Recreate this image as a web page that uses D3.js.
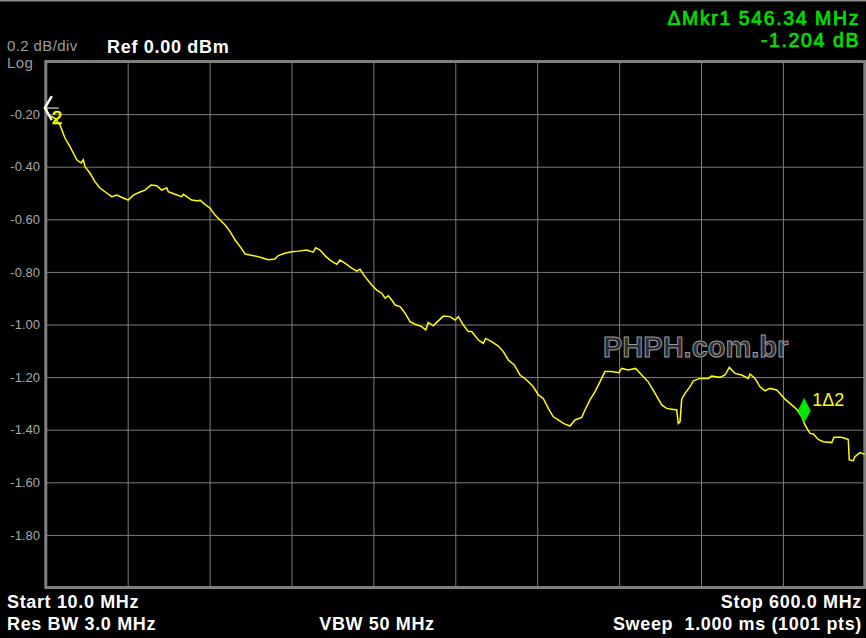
<!DOCTYPE html>
<html lang="en">
  <meta charset="utf-8">
  <style>
    body { margin: 0; background: #000; }
    svg { display: block; font-family: "Liberation Sans", Arial, sans-serif; }
  </style>
  <body>
    <svg width="866" height="638"></svg>

    <script src="https://d3js.org/d3.v7.min.js"></script>
    <script>
    // trace: frequency (MHz) and level (dB)
    let freq = [10.1, 11.8, 16.6, 20.2, 23.8, 27.4, 29.8, 32.3, 35.4, 37.0, 38.2, 41.8, 45.4, 49.0, 53.9, 57.5,
      61.1, 65.8, 69.4, 73.0, 77.9, 81.5, 85.8, 89.9, 93.5, 97.1, 98.2, 103.1, 107.9, 109.1, 115.1, 119.9,
      121.1, 124.7, 128.3, 131.9, 135.5, 139.2, 142.8, 146.4, 150.0, 153.6, 157.1, 163.1, 165.5, 170.3,
      175.1, 177.5, 182.3, 187.1, 191.9, 197.9, 202.7, 204.4, 207.5, 211.1, 214.7, 219.6, 221.9, 225.5,
      230.4, 234.0, 236.3, 239.9, 244.8, 248.4, 252.0, 254.4, 256.7, 259.2, 261.6, 265.2, 268.8, 272.4,
      276.0, 280.8, 283.7, 285.5, 289.2, 291.6, 296.4, 301.2, 304.8, 307.2, 310.8, 314.4, 316.8, 321.6,
      325.2, 326.9, 331.2, 336.0, 339.6, 343.2, 347.5, 351.6, 356.4, 361.2, 364.8, 368.4, 372.0, 375.6,
      379.2, 382.8, 387.6, 391.2, 396.1, 398.4, 402.0, 405.6, 409.2, 412.8, 417.7, 422.9, 424.9, 429.6,
      434.9, 439.3, 444.0, 448.9, 453.7, 457.3, 460.9, 464.5, 465.6, 466.9, 468.1, 470.5, 474.1, 476.5,
      481.3, 487.3, 489.7, 495.7, 499.3, 502.4, 506.5, 511.3, 516.1, 517.3, 520.9, 524.5, 528.1, 531.7,
      536.5, 538.9, 542.5, 546.1, 550.9, 554.6, 556.9, 560.5, 562.9, 566.5, 570.1, 576.2, 577.8, 583.4,
      588.1, 588.8, 591.7, 592.9, 596.5, 600.0]
    let level = [-0.173, -0.203, -0.216, -0.241, -0.291, -0.324, -0.348, -0.374, -0.386, -0.374, -0.400, -0.424,
      -0.457, -0.481, -0.500, -0.514, -0.508, -0.519, -0.527, -0.508, -0.496, -0.489, -0.470, -0.472,
      -0.489, -0.480, -0.495, -0.505, -0.514, -0.505, -0.527, -0.530, -0.527, -0.543, -0.558, -0.584,
      -0.603, -0.622, -0.647, -0.679, -0.704, -0.732, -0.736, -0.742, -0.746, -0.754, -0.751, -0.738,
      -0.729, -0.723, -0.721, -0.717, -0.725, -0.708, -0.717, -0.738, -0.755, -0.771, -0.755, -0.767,
      -0.786, -0.797, -0.790, -0.818, -0.850, -0.869, -0.881, -0.900, -0.891, -0.907, -0.926, -0.932,
      -0.957, -0.989, -0.999, -1.008, -1.021, -0.992, -1.005, -0.992, -0.968, -0.970, -0.983, -0.970,
      -1.002, -1.027, -1.027, -1.059, -1.072, -1.053, -1.065, -1.082, -1.103, -1.135, -1.154, -1.192,
      -1.211, -1.237, -1.268, -1.281, -1.319, -1.351, -1.363, -1.376, -1.386, -1.363, -1.353, -1.325,
      -1.287, -1.256, -1.218, -1.179, -1.179, -1.183, -1.167, -1.173, -1.167, -1.192, -1.218, -1.262,
      -1.306, -1.319, -1.322, -1.325, -1.376, -1.370, -1.284, -1.262, -1.236, -1.214, -1.205, -1.205,
      -1.196, -1.201, -1.192, -1.163, -1.186, -1.192, -1.205, -1.188, -1.205, -1.237, -1.252, -1.243,
      -1.249, -1.262, -1.284, -1.300, -1.322, -1.351, -1.382, -1.414, -1.416, -1.437, -1.446, -1.449,
      -1.429, -1.429, -1.437, -1.515, -1.518, -1.503, -1.487, -1.494]

    let yTicks = [-0.2, -0.4, -0.6, -0.8, -1.0, -1.2, -1.4, -1.6, -1.8]
    let xGrid = [10, 69, 128, 187, 246, 305, 364, 423, 482, 541, 600]
    let mkr1 = { f: 556.34, db: -1.381 }
    let mkr2 = { f: 10.0, db: -0.177 }

    let svg = d3.select("svg")
    svg.append("rect").attr("width", 866).attr("height", 638).attr("fill", "#000")
    svg.append("rect").attr("width", 866).attr("height", 1.5).attr("fill", "#8c8c8c")

    let x = d3.scaleLinear().domain([10, 600]).range([45.8, 864.8])
    let y = d3.scaleLinear().domain([0, -2]).range([61.5, 587.5])

    // grid
    let grid = svg.append("g")
    grid.append("g").attr("transform", "translate(0,61.5)")
      .call(d3.axisBottom(x).tickValues(xGrid).tickSize(526).tickFormat(""))
    grid.append("g").attr("transform", "translate(45.8,0)")
      .call(d3.axisRight(y).tickValues(yTicks).tickSize(819).tickFormat(""))
    grid.selectAll(".domain").remove()
    grid.selectAll("line").attr("stroke", "#7c7c7c").attr("stroke-width", 1)

    // frame
    svg.append("rect")
      .attr("x", x(10)).attr("y", y(0))
      .attr("width", x(600) - x(10)).attr("height", y(-2) - y(0))
      .attr("fill", "none").attr("stroke", "#808080").attr("stroke-width", 3)

    // y labels
    let yl = svg.append("g").attr("transform", "translate(40,0)")
      .call(d3.axisLeft(y).tickValues(yTicks).tickSize(0).tickPadding(0).tickFormat(d => d.toFixed(2)))
    yl.select(".domain").remove()
    yl.selectAll("text").attr("fill", "#a8a8a8").attr("font-size", 13)
      .attr("font-family", "Liberation Sans, Arial, sans-serif")

    // trace
    let line = d3.line().x(d => x(d[0])).y(d => y(d[1]))
    svg.append("path")
      .datum(freq.map((f, i) => [f, level[i]]))
      .attr("d", line)
      .attr("fill", "none").attr("stroke", "#ffff00").attr("stroke-width", 1.5)

    // watermark
    svg.append("text").attr("x", 603).attr("y", 357)
      .attr("font-size", 29).attr("font-weight", "bold")
      .attr("fill", "#2c2c2c").attr("stroke", "#999").attr("stroke-width", 1)
      .text("PHPH.com.br")

    // marker 2 (reference) at the start
    let m2x = x(mkr2.f), m2y = y(mkr2.db)
    svg.append("path")
      .attr("d", `M${m2x + 6},${m2y - 12}L${m2x - 1},${m2y}L${m2x + 6},${m2y + 12}`)
      .attr("fill", "none").attr("stroke", "#fff").attr("stroke-width", 2.4)
    svg.append("line").attr("x1", m2x + 1).attr("x2", m2x + 13).attr("y1", m2y).attr("y2", m2y)
      .attr("stroke", "#fff").attr("stroke-width", 1)
    svg.append("text").attr("x", m2x + 6).attr("y", m2y + 16)
      .attr("font-size", 19).attr("fill", "#ffff00").attr("stroke", "#ffff00").attr("stroke-width", 0.5)
      .text("2")

    // marker 1 (delta)
    let m1x = x(mkr1.f), m1y = y(mkr1.db)
    svg.append("path")
      .attr("d", `M${m1x},${m1y - 27}L${m1x + 6.5},${m1y - 14}L${m1x},${m1y - 2}L${m1x - 6.5},${m1y - 14}Z`)
      .attr("fill", "#00e600")
    svg.append("text").attr("x", m1x + 8).attr("y", m1y - 19)
      .attr("font-size", 18).attr("fill", "#ffff00").text("1\u03942")

    // header texts
    svg.append("text").attr("x", 7).attr("y", 50.5).attr("font-size", 15).attr("letter-spacing", 0.4)
      .attr("fill", "#9c9c9c").text("0.2 dB/div")
    svg.append("text").attr("x", 7).attr("y", 67.5).attr("font-size", 15).attr("letter-spacing", 0.4)
      .attr("fill", "#9c9c9c").text("Log")
    svg.append("text").attr("x", 107).attr("y", 52.5).attr("font-size", 18).attr("font-weight", "bold")
      .attr("letter-spacing", 0.7).attr("fill", "#fff").text("Ref 0.00 dBm")
    svg.append("text").attr("x", 860).attr("y", 25).attr("font-size", 19.5).attr("text-anchor", "end")
      .attr("letter-spacing", 1.6).attr("stroke", "#00e000").attr("stroke-width", 0.7)
      .attr("fill", "#00e000").text("\u0394Mkr1 546.34 MHz")
    svg.append("text").attr("x", 860).attr("y", 47.2).attr("font-size", 19.5).attr("text-anchor", "end")
      .attr("letter-spacing", 1.6).attr("stroke", "#00e000").attr("stroke-width", 0.7)
      .attr("fill", "#00e000").text("-1.204 dB")

    // footer texts
    let foot = [
      { t: "Start 10.0 MHz", x: 7, y: 608, a: "start" },
      { t: "Res BW 3.0 MHz", x: 7, y: 630, a: "start" },
      { t: "VBW 50 MHz", x: 377, y: 630, a: "middle" },
      { t: "Stop 600.0 MHz", x: 862, y: 608, a: "end" },
      { t: "Sweep\u00a0 1.000 ms (1001 pts)", x: 862, y: 630, a: "end" }
    ]
    svg.append("g").selectAll("text").data(foot).enter().append("text")
      .attr("x", d => d.x).attr("y", d => d.y).attr("text-anchor", d => d.a)
      .attr("font-size", 18).attr("font-weight", "bold").attr("letter-spacing", 0.65).attr("fill", "#fff")
      .text(d => d.t)
    </script>
</body>
</html>
